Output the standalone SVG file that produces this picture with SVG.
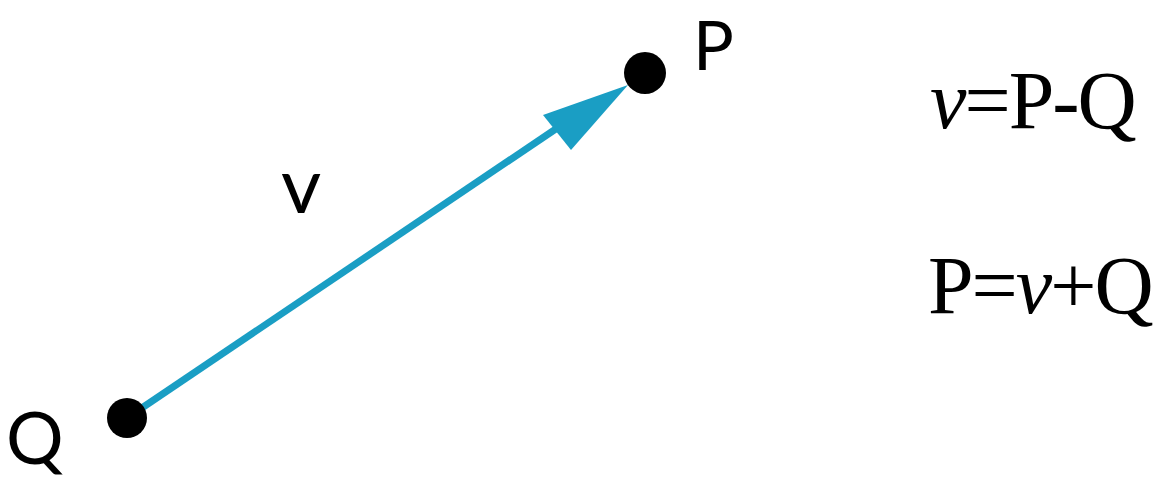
<svg xmlns="http://www.w3.org/2000/svg" width="1154" height="481" viewBox="0 0 1154 481">
<style>
.dot{fill:#000}
.lbl{font-family:Lato,"DejaVu Sans",sans-serif;font-weight:400;fill:#000}
.eq{font-family:"Liberation Serif",serif;font-size:82px;fill:#000}
.vec{stroke:#1a9ec4;stroke-width:7;fill:none}
</style>
<rect width="1154" height="481" fill="#fff"/>
<g id="connectors">
<line class="vec" x1="127" y1="418" x2="575" y2="116"/>
<polygon points="628,85 543,115 571,150" fill="#1a9ec4"/>
</g>
<g id="Q">
<circle class="dot" cx="127" cy="418" r="20"/>
<text class="lbl" x="6" y="464" font-size="72">Q</text>
</g>
<g id="P">
<circle class="dot" cx="645" cy="73" r="21"/>
<text class="lbl" x="693" y="70" font-size="68">P</text>
</g>
<g id="v">
<text class="lbl" x="281" y="213" font-size="78">v</text>
</g>
<g id="eq1">
<text class="eq" x="930" y="128" letter-spacing="-2"><tspan font-style="italic">v</tspan>=P-Q</text>
</g>
<g id="eq2">
<text class="eq" x="928" y="313" letter-spacing="-2">P=<tspan font-style="italic">v</tspan>+Q</text>
</g>
</svg>
